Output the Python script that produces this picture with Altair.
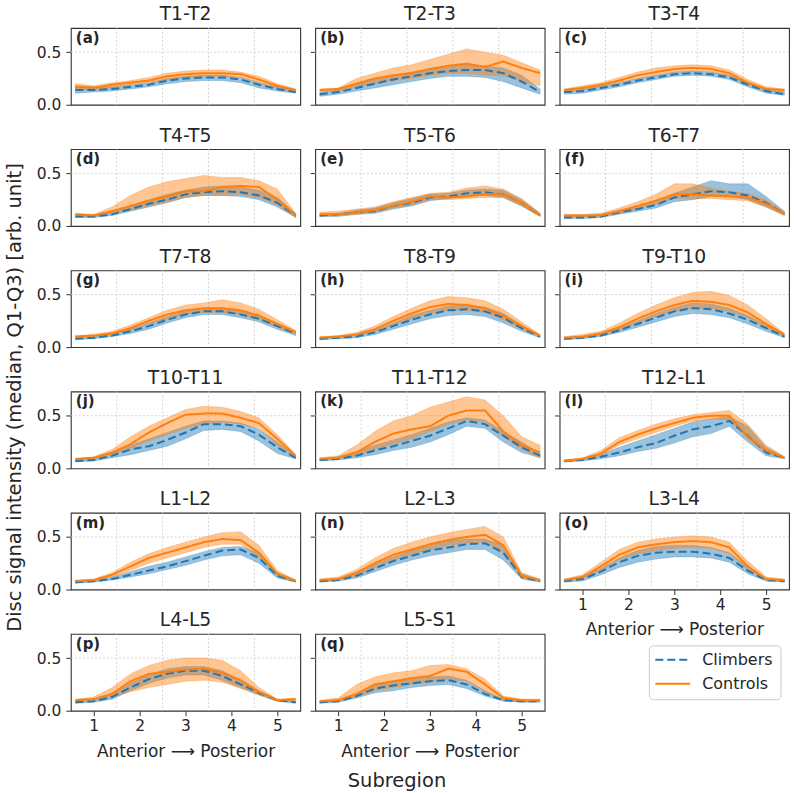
import altair as alt
import pandas as pd

# Sample positions along the disc (5 subregions, anterior -> posterior)
SUBREGION = [0.6, 1.0, 1.4, 1.8, 2.2, 2.6, 3.0, 3.4, 3.8, 4.2, 4.6, 5.0, 5.4]

DISCS = ["T1-T2", "T2-T3", "T3-T4", "T4-T5", "T5-T6", "T6-T7", "T7-T8", "T8-T9",
         "T9-T10", "T10-T11", "T11-T12", "T12-L1", "L1-L2", "L2-L3", "L3-L4",
         "L4-L5", "L5-S1"]
PANEL_TAGS = ["(a)", "(b)", "(c)", "(d)", "(e)", "(f)", "(g)", "(h)", "(i)",
              "(j)", "(k)", "(l)", "(m)", "(n)", "(o)", "(p)", "(q)"]
GROUPS = ["Climbers", "Controls"]
X_TICKS = [1, 2, 3, 4, 5]
Y_TICKS = [0.0, 0.5]
X_GRID = [1.5, 2.5, 3.5, 4.5]
Y_GRID = [0.5]
X_TITLE = "Anterior \u27f6 Posterior"
FIG_X_TITLE = "Subregion"
FIG_Y_TITLE = "Disc signal intensity (median, Q1-Q3) [arb. unit]"

# Climbers: median, first and third quartile
CLIMB_MED = {
    "T1-T2":   [0.14, 0.14, 0.15, 0.17, 0.19, 0.23, 0.25, 0.26, 0.26, 0.24, 0.19, 0.15, 0.12],
    "T2-T3":   [0.10, 0.12, 0.16, 0.20, 0.24, 0.27, 0.30, 0.32, 0.33, 0.33, 0.30, 0.22, 0.12],
    "T3-T4":   [0.12, 0.13, 0.16, 0.19, 0.23, 0.26, 0.29, 0.30, 0.29, 0.26, 0.19, 0.13, 0.10],
    "T4-T5":   [0.09, 0.09, 0.11, 0.16, 0.21, 0.25, 0.30, 0.32, 0.33, 0.32, 0.29, 0.22, 0.10],
    "T5-T6":   [0.10, 0.11, 0.13, 0.14, 0.19, 0.22, 0.27, 0.28, 0.31, 0.32, 0.30, 0.22, 0.10],
    "T6-T7":   [0.08, 0.08, 0.09, 0.13, 0.16, 0.20, 0.27, 0.30, 0.33, 0.32, 0.29, 0.22, 0.12],
    "T7-T8":   [0.08, 0.09, 0.11, 0.15, 0.20, 0.26, 0.31, 0.34, 0.34, 0.31, 0.27, 0.20, 0.13],
    "T8-T9":   [0.08, 0.09, 0.10, 0.14, 0.20, 0.26, 0.31, 0.35, 0.36, 0.34, 0.28, 0.18, 0.10],
    "T9-T10":  [0.08, 0.09, 0.11, 0.16, 0.22, 0.28, 0.34, 0.37, 0.36, 0.32, 0.26, 0.18, 0.10],
    "T10-T11": [0.07, 0.08, 0.12, 0.18, 0.21, 0.27, 0.34, 0.42, 0.42, 0.40, 0.32, 0.20, 0.10],
    "T11-T12": [0.08, 0.09, 0.12, 0.17, 0.21, 0.26, 0.31, 0.38, 0.45, 0.42, 0.31, 0.20, 0.12],
    "T12-L1":  [0.07, 0.08, 0.11, 0.15, 0.20, 0.24, 0.31, 0.37, 0.40, 0.45, 0.31, 0.15, 0.10],
    "L1-L2":   [0.07, 0.08, 0.10, 0.14, 0.18, 0.22, 0.27, 0.32, 0.37, 0.38, 0.30, 0.13, 0.08],
    "L2-L3":   [0.08, 0.09, 0.13, 0.20, 0.27, 0.32, 0.37, 0.40, 0.43, 0.44, 0.35, 0.12, 0.08],
    "L3-L4":   [0.08, 0.10, 0.17, 0.26, 0.32, 0.35, 0.36, 0.36, 0.34, 0.30, 0.18, 0.09, 0.08],
    "L4-L5":   [0.08, 0.09, 0.13, 0.22, 0.30, 0.35, 0.38, 0.38, 0.33, 0.25, 0.17, 0.10, 0.08],
    "L5-S1":   [0.08, 0.09, 0.14, 0.21, 0.24, 0.26, 0.28, 0.29, 0.25, 0.16, 0.10, 0.09, 0.09],
}
CLIMB_Q1 = {
    "T1-T2":   [0.11, 0.12, 0.13, 0.15, 0.17, 0.20, 0.22, 0.23, 0.23, 0.21, 0.16, 0.13, 0.11],
    "T2-T3":   [0.08, 0.10, 0.13, 0.16, 0.19, 0.22, 0.25, 0.27, 0.27, 0.26, 0.22, 0.16, 0.10],
    "T3-T4":   [0.10, 0.11, 0.14, 0.17, 0.21, 0.24, 0.27, 0.28, 0.27, 0.24, 0.17, 0.11, 0.09],
    "T4-T5":   [0.08, 0.08, 0.10, 0.14, 0.18, 0.22, 0.27, 0.29, 0.29, 0.28, 0.25, 0.18, 0.08],
    "T5-T6":   [0.09, 0.09, 0.11, 0.12, 0.16, 0.19, 0.24, 0.26, 0.28, 0.29, 0.27, 0.19, 0.09],
    "T6-T7":   [0.07, 0.07, 0.08, 0.11, 0.14, 0.17, 0.23, 0.25, 0.28, 0.28, 0.25, 0.18, 0.10],
    "T7-T8":   [0.07, 0.08, 0.10, 0.13, 0.17, 0.23, 0.28, 0.31, 0.31, 0.28, 0.24, 0.17, 0.11],
    "T8-T9":   [0.07, 0.08, 0.09, 0.12, 0.17, 0.22, 0.27, 0.30, 0.31, 0.29, 0.23, 0.15, 0.09],
    "T9-T10":  [0.07, 0.08, 0.10, 0.14, 0.19, 0.24, 0.29, 0.32, 0.31, 0.28, 0.22, 0.15, 0.09],
    "T10-T11": [0.06, 0.07, 0.10, 0.13, 0.17, 0.21, 0.28, 0.36, 0.37, 0.35, 0.26, 0.14, 0.09],
    "T11-T12": [0.07, 0.08, 0.10, 0.13, 0.17, 0.20, 0.25, 0.32, 0.40, 0.38, 0.25, 0.15, 0.10],
    "T12-L1":  [0.06, 0.07, 0.09, 0.12, 0.16, 0.19, 0.24, 0.30, 0.33, 0.40, 0.25, 0.12, 0.09],
    "L1-L2":   [0.06, 0.07, 0.09, 0.12, 0.15, 0.19, 0.23, 0.28, 0.32, 0.33, 0.25, 0.11, 0.07],
    "L2-L3":   [0.07, 0.08, 0.11, 0.17, 0.23, 0.28, 0.32, 0.35, 0.38, 0.38, 0.28, 0.10, 0.07],
    "L3-L4":   [0.07, 0.08, 0.14, 0.21, 0.26, 0.29, 0.31, 0.31, 0.30, 0.26, 0.15, 0.08, 0.07],
    "L4-L5":   [0.07, 0.08, 0.11, 0.19, 0.26, 0.31, 0.34, 0.34, 0.29, 0.22, 0.15, 0.09, 0.07],
    "L5-S1":   [0.07, 0.08, 0.12, 0.17, 0.19, 0.22, 0.24, 0.25, 0.21, 0.14, 0.09, 0.08, 0.08],
}
CLIMB_Q3 = {
    "T1-T2":   [0.18, 0.17, 0.17, 0.19, 0.21, 0.25, 0.27, 0.28, 0.28, 0.26, 0.21, 0.17, 0.14],
    "T2-T3":   [0.12, 0.14, 0.19, 0.24, 0.28, 0.31, 0.34, 0.37, 0.38, 0.37, 0.35, 0.28, 0.15],
    "T3-T4":   [0.13, 0.15, 0.18, 0.21, 0.25, 0.28, 0.31, 0.32, 0.31, 0.28, 0.21, 0.15, 0.12],
    "T4-T5":   [0.10, 0.10, 0.13, 0.19, 0.25, 0.30, 0.34, 0.37, 0.38, 0.37, 0.34, 0.27, 0.12],
    "T5-T6":   [0.11, 0.12, 0.15, 0.17, 0.22, 0.26, 0.30, 0.31, 0.34, 0.35, 0.34, 0.25, 0.12],
    "T6-T7":   [0.09, 0.10, 0.11, 0.15, 0.19, 0.24, 0.31, 0.37, 0.43, 0.40, 0.40, 0.28, 0.14],
    "T7-T8":   [0.09, 0.10, 0.13, 0.17, 0.23, 0.29, 0.34, 0.37, 0.37, 0.34, 0.30, 0.23, 0.15],
    "T8-T9":   [0.09, 0.10, 0.12, 0.16, 0.23, 0.30, 0.35, 0.39, 0.40, 0.38, 0.32, 0.21, 0.11],
    "T9-T10":  [0.09, 0.10, 0.13, 0.18, 0.25, 0.32, 0.38, 0.42, 0.41, 0.37, 0.30, 0.21, 0.11],
    "T10-T11": [0.08, 0.09, 0.15, 0.22, 0.28, 0.34, 0.40, 0.45, 0.45, 0.43, 0.37, 0.25, 0.12],
    "T11-T12": [0.09, 0.11, 0.16, 0.22, 0.27, 0.32, 0.38, 0.44, 0.48, 0.46, 0.35, 0.25, 0.14],
    "T12-L1":  [0.08, 0.09, 0.13, 0.20, 0.26, 0.32, 0.38, 0.44, 0.47, 0.49, 0.40, 0.20, 0.11],
    "L1-L2":   [0.08, 0.09, 0.12, 0.17, 0.22, 0.26, 0.31, 0.36, 0.40, 0.41, 0.35, 0.16, 0.09],
    "L2-L3":   [0.09, 0.10, 0.15, 0.24, 0.31, 0.37, 0.42, 0.46, 0.48, 0.48, 0.42, 0.15, 0.09],
    "L3-L4":   [0.09, 0.12, 0.20, 0.30, 0.37, 0.41, 0.42, 0.42, 0.40, 0.35, 0.22, 0.10, 0.09],
    "L4-L5":   [0.09, 0.10, 0.15, 0.26, 0.34, 0.40, 0.42, 0.42, 0.38, 0.29, 0.19, 0.11, 0.09],
    "L5-S1":   [0.09, 0.10, 0.16, 0.24, 0.28, 0.30, 0.32, 0.33, 0.29, 0.19, 0.11, 0.10, 0.10],
}

# Controls: median, first and third quartile
CTRL_MED = {
    "T1-T2":   [0.17, 0.16, 0.19, 0.21, 0.23, 0.27, 0.29, 0.30, 0.30, 0.29, 0.24, 0.18, 0.14],
    "T2-T3":   [0.14, 0.15, 0.20, 0.25, 0.28, 0.30, 0.34, 0.37, 0.39, 0.36, 0.41, 0.35, 0.30],
    "T3-T4":   [0.14, 0.16, 0.19, 0.23, 0.28, 0.31, 0.34, 0.35, 0.34, 0.30, 0.21, 0.15, 0.14],
    "T4-T5":   [0.11, 0.10, 0.14, 0.19, 0.24, 0.28, 0.33, 0.33, 0.37, 0.38, 0.37, 0.25, 0.10],
    "T5-T6":   [0.11, 0.11, 0.13, 0.15, 0.19, 0.23, 0.28, 0.27, 0.28, 0.30, 0.30, 0.22, 0.10],
    "T6-T7":   [0.10, 0.10, 0.10, 0.14, 0.19, 0.24, 0.30, 0.30, 0.29, 0.28, 0.27, 0.21, 0.12],
    "T7-T8":   [0.10, 0.11, 0.13, 0.18, 0.25, 0.31, 0.35, 0.37, 0.37, 0.35, 0.30, 0.22, 0.14],
    "T8-T9":   [0.09, 0.10, 0.12, 0.17, 0.25, 0.32, 0.38, 0.41, 0.40, 0.37, 0.30, 0.20, 0.11],
    "T9-T10":  [0.09, 0.10, 0.13, 0.19, 0.27, 0.34, 0.40, 0.44, 0.43, 0.40, 0.33, 0.22, 0.12],
    "T10-T11": [0.09, 0.10, 0.15, 0.23, 0.34, 0.43, 0.51, 0.52, 0.52, 0.48, 0.43, 0.28, 0.12],
    "T11-T12": [0.09, 0.10, 0.15, 0.25, 0.33, 0.37, 0.40, 0.50, 0.55, 0.55, 0.35, 0.22, 0.15],
    "T12-L1":  [0.07, 0.09, 0.14, 0.25, 0.32, 0.38, 0.43, 0.48, 0.50, 0.50, 0.30, 0.17, 0.10],
    "L1-L2":   [0.08, 0.09, 0.14, 0.22, 0.30, 0.35, 0.40, 0.45, 0.48, 0.47, 0.35, 0.15, 0.08],
    "L2-L3":   [0.09, 0.10, 0.16, 0.25, 0.33, 0.38, 0.43, 0.47, 0.50, 0.52, 0.42, 0.13, 0.09],
    "L3-L4":   [0.09, 0.12, 0.22, 0.33, 0.40, 0.43, 0.45, 0.46, 0.45, 0.40, 0.22, 0.10, 0.09],
    "L4-L5":   [0.10, 0.11, 0.16, 0.28, 0.35, 0.37, 0.39, 0.40, 0.36, 0.29, 0.18, 0.10, 0.11],
    "L5-S1":   [0.09, 0.10, 0.16, 0.25, 0.28, 0.31, 0.33, 0.40, 0.37, 0.25, 0.12, 0.10, 0.10],
}
CTRL_Q1 = {
    "T1-T2":   [0.14, 0.14, 0.16, 0.19, 0.21, 0.24, 0.26, 0.27, 0.27, 0.26, 0.21, 0.16, 0.12],
    "T2-T3":   [0.12, 0.13, 0.17, 0.20, 0.23, 0.25, 0.28, 0.30, 0.30, 0.28, 0.28, 0.22, 0.18],
    "T3-T4":   [0.12, 0.14, 0.17, 0.21, 0.25, 0.28, 0.31, 0.32, 0.31, 0.27, 0.19, 0.13, 0.12],
    "T4-T5":   [0.09, 0.09, 0.12, 0.15, 0.19, 0.23, 0.27, 0.29, 0.29, 0.30, 0.27, 0.20, 0.08],
    "T5-T6":   [0.09, 0.10, 0.11, 0.13, 0.17, 0.20, 0.25, 0.25, 0.26, 0.27, 0.27, 0.19, 0.09],
    "T6-T7":   [0.09, 0.09, 0.09, 0.12, 0.16, 0.21, 0.26, 0.26, 0.26, 0.25, 0.24, 0.18, 0.10],
    "T7-T8":   [0.09, 0.10, 0.12, 0.16, 0.22, 0.27, 0.31, 0.33, 0.33, 0.31, 0.26, 0.19, 0.12],
    "T8-T9":   [0.08, 0.09, 0.11, 0.15, 0.21, 0.27, 0.32, 0.35, 0.35, 0.33, 0.26, 0.17, 0.10],
    "T9-T10":  [0.08, 0.09, 0.11, 0.16, 0.23, 0.29, 0.34, 0.37, 0.37, 0.34, 0.28, 0.18, 0.10],
    "T10-T11": [0.08, 0.09, 0.13, 0.19, 0.26, 0.32, 0.38, 0.42, 0.44, 0.42, 0.38, 0.22, 0.10],
    "T11-T12": [0.08, 0.09, 0.12, 0.18, 0.23, 0.28, 0.35, 0.42, 0.46, 0.44, 0.30, 0.18, 0.10],
    "T12-L1":  [0.06, 0.08, 0.12, 0.22, 0.28, 0.34, 0.40, 0.45, 0.47, 0.46, 0.28, 0.15, 0.09],
    "L1-L2":   [0.07, 0.08, 0.12, 0.18, 0.25, 0.30, 0.35, 0.40, 0.43, 0.43, 0.31, 0.13, 0.07],
    "L2-L3":   [0.08, 0.09, 0.13, 0.21, 0.28, 0.33, 0.38, 0.42, 0.44, 0.45, 0.35, 0.11, 0.08],
    "L3-L4":   [0.08, 0.10, 0.18, 0.28, 0.34, 0.37, 0.39, 0.40, 0.39, 0.34, 0.19, 0.09, 0.08],
    "L4-L5":   [0.09, 0.10, 0.13, 0.18, 0.22, 0.25, 0.28, 0.29, 0.27, 0.21, 0.15, 0.09, 0.09],
    "L5-S1":   [0.08, 0.09, 0.13, 0.19, 0.22, 0.25, 0.27, 0.30, 0.28, 0.18, 0.10, 0.09, 0.09],
}
CTRL_Q3 = {
    "T1-T2":   [0.20, 0.18, 0.21, 0.23, 0.26, 0.30, 0.32, 0.33, 0.33, 0.31, 0.27, 0.20, 0.15],
    "T2-T3":   [0.15, 0.16, 0.25, 0.30, 0.35, 0.38, 0.43, 0.48, 0.53, 0.50, 0.47, 0.40, 0.33],
    "T3-T4":   [0.15, 0.18, 0.21, 0.26, 0.31, 0.35, 0.37, 0.38, 0.37, 0.33, 0.24, 0.17, 0.15],
    "T4-T5":   [0.12, 0.11, 0.18, 0.29, 0.37, 0.42, 0.45, 0.48, 0.46, 0.46, 0.43, 0.35, 0.12],
    "T5-T6":   [0.13, 0.14, 0.16, 0.18, 0.23, 0.27, 0.31, 0.32, 0.36, 0.38, 0.35, 0.26, 0.12],
    "T6-T7":   [0.11, 0.11, 0.12, 0.17, 0.23, 0.30, 0.40, 0.40, 0.36, 0.33, 0.31, 0.25, 0.13],
    "T7-T8":   [0.11, 0.12, 0.15, 0.21, 0.28, 0.35, 0.40, 0.42, 0.45, 0.42, 0.36, 0.26, 0.16],
    "T8-T9":   [0.10, 0.11, 0.14, 0.20, 0.29, 0.37, 0.44, 0.48, 0.47, 0.44, 0.36, 0.24, 0.12],
    "T9-T10":  [0.10, 0.12, 0.15, 0.23, 0.32, 0.40, 0.47, 0.52, 0.53, 0.49, 0.40, 0.27, 0.13],
    "T10-T11": [0.09, 0.11, 0.18, 0.30, 0.40, 0.48, 0.56, 0.59, 0.58, 0.54, 0.48, 0.32, 0.13],
    "T11-T12": [0.10, 0.12, 0.22, 0.35, 0.45, 0.50, 0.58, 0.63, 0.68, 0.65, 0.50, 0.30, 0.22],
    "T12-L1":  [0.08, 0.10, 0.17, 0.29, 0.36, 0.42, 0.47, 0.51, 0.53, 0.55, 0.42, 0.22, 0.11],
    "L1-L2":   [0.09, 0.10, 0.16, 0.26, 0.34, 0.40, 0.45, 0.50, 0.54, 0.55, 0.42, 0.18, 0.09],
    "L2-L3":   [0.10, 0.12, 0.19, 0.30, 0.39, 0.45, 0.50, 0.54, 0.57, 0.60, 0.50, 0.16, 0.10],
    "L3-L4":   [0.10, 0.14, 0.26, 0.38, 0.45, 0.48, 0.50, 0.51, 0.50, 0.45, 0.27, 0.12, 0.10],
    "L4-L5":   [0.11, 0.13, 0.22, 0.35, 0.43, 0.48, 0.50, 0.50, 0.48, 0.38, 0.22, 0.11, 0.12],
    "L5-S1":   [0.10, 0.12, 0.25, 0.32, 0.36, 0.38, 0.43, 0.44, 0.40, 0.30, 0.14, 0.11, 0.11],
}

BLUE = "#1f77b4"
ORANGE = "#ff7f0e"
INK = "#262626"
FONT = "DejaVu Sans"
W, H = 230, 77
X_SCALE = alt.Scale(domain=[0.5, 5.5], nice=False, zero=False)
Y_SCALE = alt.Scale(domain=[0.0, 0.73], nice=False, zero=False)
BOTTOM_ROW = {"L3-L4", "L4-L5", "L5-S1"}
DASHES = {"Climbers": [8, 4], "Controls": [1, 0]}
COLORS = {"Climbers": BLUE, "Controls": ORANGE}


def group_frame(disc, group):
    if group == "Climbers":
        med, q1, q3 = CLIMB_MED[disc], CLIMB_Q1[disc], CLIMB_Q3[disc]
    else:
        med, q1, q3 = CTRL_MED[disc], CTRL_Q1[disc], CTRL_Q3[disc]
    return pd.DataFrame({"x": SUBREGION, "med": med, "q1": q1, "q3": q3})


def label(text, x, y, **style):
    return alt.Chart(pd.DataFrame({"t": [text]})).mark_text(
        font=FONT, color=INK, **style
    ).encode(x=alt.value(x), y=alt.value(y), text="t:N")


def panel(i, disc):
    with_x = disc in BOTTOM_ROW
    with_y_labels = i % 3 == 0

    x_axis = alt.Axis(values=X_TICKS, format="d", grid=False, domain=False,
                      labels=with_x, ticks=with_x, tickSize=5, labelPadding=3,
                      labelFontSize=15.5, titleFontSize=17, titlePadding=9,
                      titleFontWeight="normal", title=X_TITLE if with_x else None)
    y_axis = alt.Axis(values=Y_TICKS, format=".1f", grid=False, domain=False,
                      labels=with_y_labels, ticks=True, tickSize=5, labelPadding=5,
                      labelFontSize=15.5, title=None)
    xe = alt.X("x:Q", scale=X_SCALE, axis=x_axis)

    vgrid = alt.Chart(pd.DataFrame({"x": X_GRID})).mark_rule(
        color="#cfcfcf", strokeDash=[2, 2], strokeWidth=0.9
    ).encode(x=xe)
    hgrid = alt.Chart(pd.DataFrame({"y": Y_GRID})).mark_rule(
        color="#cfcfcf", strokeDash=[2, 2], strokeWidth=0.9
    ).encode(y=alt.Y("y:Q", scale=Y_SCALE, axis=y_axis))

    layers = [vgrid, hgrid]
    for group in GROUPS:
        color = COLORS[group]
        layers.append(alt.Chart(group_frame(disc, group)).mark_area(
            fill=color, fillOpacity=0.45, stroke=color, strokeOpacity=0.35, strokeWidth=0.8
        ).encode(
            x=xe,
            y=alt.Y("q1:Q", scale=Y_SCALE, axis=y_axis),
            y2="q3:Q",
        ))
    for group in GROUPS:
        layers.append(alt.Chart(group_frame(disc, group)).mark_line(
            color=COLORS[group], strokeWidth=2, strokeDash=DASHES[group]
        ).encode(
            x=xe,
            y=alt.Y("med:Q", scale=Y_SCALE, axis=y_axis),
        ))

    # panel title above the frame and bold tag in the top-left corner
    layers.append(label(disc, W / 2, -7.5, align="center", baseline="alphabetic", fontSize=18.8))
    layers.append(label(PANEL_TAGS[i], 5, 3, align="left", baseline="top",
                        fontSize=15, fontWeight="bold"))

    if i == 0:
        # figure-wide y label, centred on the whole grid
        layers.append(label(FIG_Y_TITLE, -50, 370.5, angle=270, align="center",
                            baseline="alphabetic", fontSize=19.5))
    if disc == "L5-S1":
        # figure-wide x label
        layers.append(label(FIG_X_TITLE, 82, H + 70, align="center",
                            baseline="middle", fontSize=19.5))

    return alt.layer(*layers).properties(width=W, height=H)


def legend_cell():
    box = alt.Chart(pd.DataFrame({"k": [0]})).mark_rect(
        fill="white", stroke="#cccccc", strokeWidth=1, cornerRadius=4
    ).encode(x=alt.value(90), x2=alt.value(222), y=alt.value(12), y2=alt.value(66))
    parts = [box]
    for k, group in enumerate(GROUPS):
        yy = 26 + 24 * k
        parts.append(alt.Chart(pd.DataFrame({"k": [k]})).mark_rule(
            color=COLORS[group], strokeWidth=2, strokeDash=DASHES[group]
        ).encode(x=alt.value(96), x2=alt.value(131), y=alt.value(yy)))
        parts.append(label(group, 143, yy, align="left", baseline="middle", fontSize=16))
    return alt.layer(*parts).properties(
        width=W, height=H, view=alt.ViewBackground(strokeOpacity=0)
    )


cells = [panel(i, d) for i, d in enumerate(DISCS)] + [legend_cell()]

chart = alt.concat(
    *cells, columns=3, bounds="flush",
    spacing=alt.RowColnumber(row=44.5, column=15),
).properties(
    padding={"left": 4, "top": 3, "right": 4, "bottom": 3},
    background="white",
).configure_view(
    stroke="#333333", strokeWidth=1.1
).configure_axis(
    labelFont=FONT, titleFont=FONT, labelColor=INK, titleColor=INK, tickColor="#333333"
)

chart.save("out.html", embed_options={"renderer": "svg", "actions": False})
